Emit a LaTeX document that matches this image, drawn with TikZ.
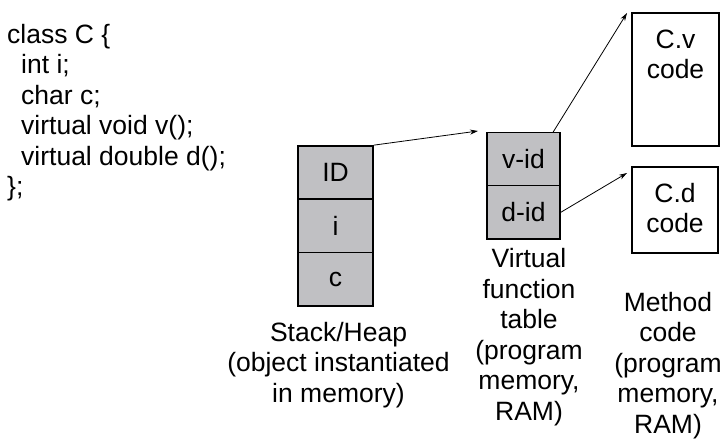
\documentclass[tikz,border=0pt]{standalone}
\usepackage{fontspec}
\setmainfont{Liberation Sans}
\usetikzlibrary{arrows.meta}
\definecolor{cellgray}{RGB}{192,192,195}
\tikzset{
  txt/.style={font=\fontsize{26.5}{30.5}\selectfont, inner sep=0pt, align=center},
  cell/.style={draw=black, line width=1.6pt, fill=cellgray, minimum width=#1, minimum height=53.3pt, inner sep=0pt, font=\fontsize{26.5}{30.5}\selectfont},
  codebox/.style={draw=black, line width=1.6pt, fill=white, inner sep=0pt},
  conn/.style={line width=0.8pt, -{Stealth[length=8pt,width=5pt]}},
}
\begin{document}
\begin{tikzpicture}[x=1pt,y=-1pt]
\useasboundingbox (0,0) rectangle (725,441);
% class source (anchor = baseline of last line)
\node[txt, align=left, anchor=base west] (src) at (7,195.5) {class C \{\\
\hspace*{14pt}int i;\\
\hspace*{14pt}char c;\\
\hspace*{14pt}virtual void v();\\
\hspace*{14pt}virtual double d();\\
\};};
% stack cells
\node[cell=75pt] (id) at (335.5,172.6) {ID};
\node[cell=75pt] (ci) at (335.5,225.9) {i};
\node[cell=75pt] (cc) at (335.5,279.2) {c};
\node[txt, anchor=base] (stacklbl) at (338.5,402) {Stack/Heap\\(object instantiated\\in memory)};
% vtable
\node[cell=73pt] (vid) at (523.5,159) {v-id};
\node[cell=73pt] (did) at (523.5,212.3) {d-id};
\node[txt, anchor=base] (vtlbl) at (529,420) {Virtual\\function\\table\\(program\\memory,\\RAM)};
% method code
\node[codebox, minimum width=87pt, minimum height=133pt] (cv) at (675.5,79.5) {};
\node[txt, anchor=base] (cvtxt) at (675.5,79) {C.v\\code};
\node[codebox, minimum width=86pt, minimum height=86pt] (cd) at (675,210) {};
\node[txt, anchor=base] (cdtxt) at (675,232.5) {C.d\\code};
\node[txt, anchor=base] (mclbl) at (668,433) {Method\\code\\(program\\memory,\\RAM)};
% connectors
\coordinate (vtin) at (478,131);
\coordinate (cvin) at (627,13);
\coordinate (cdin) at (627,173);
\coordinate (vidout) at (553,132.3);
\draw[conn] (id.north east) -- (vtin);
\draw[conn] (vidout) -- (cvin);
\draw[conn] (did.east) -- (cdin);
\end{tikzpicture}
\end{document}
